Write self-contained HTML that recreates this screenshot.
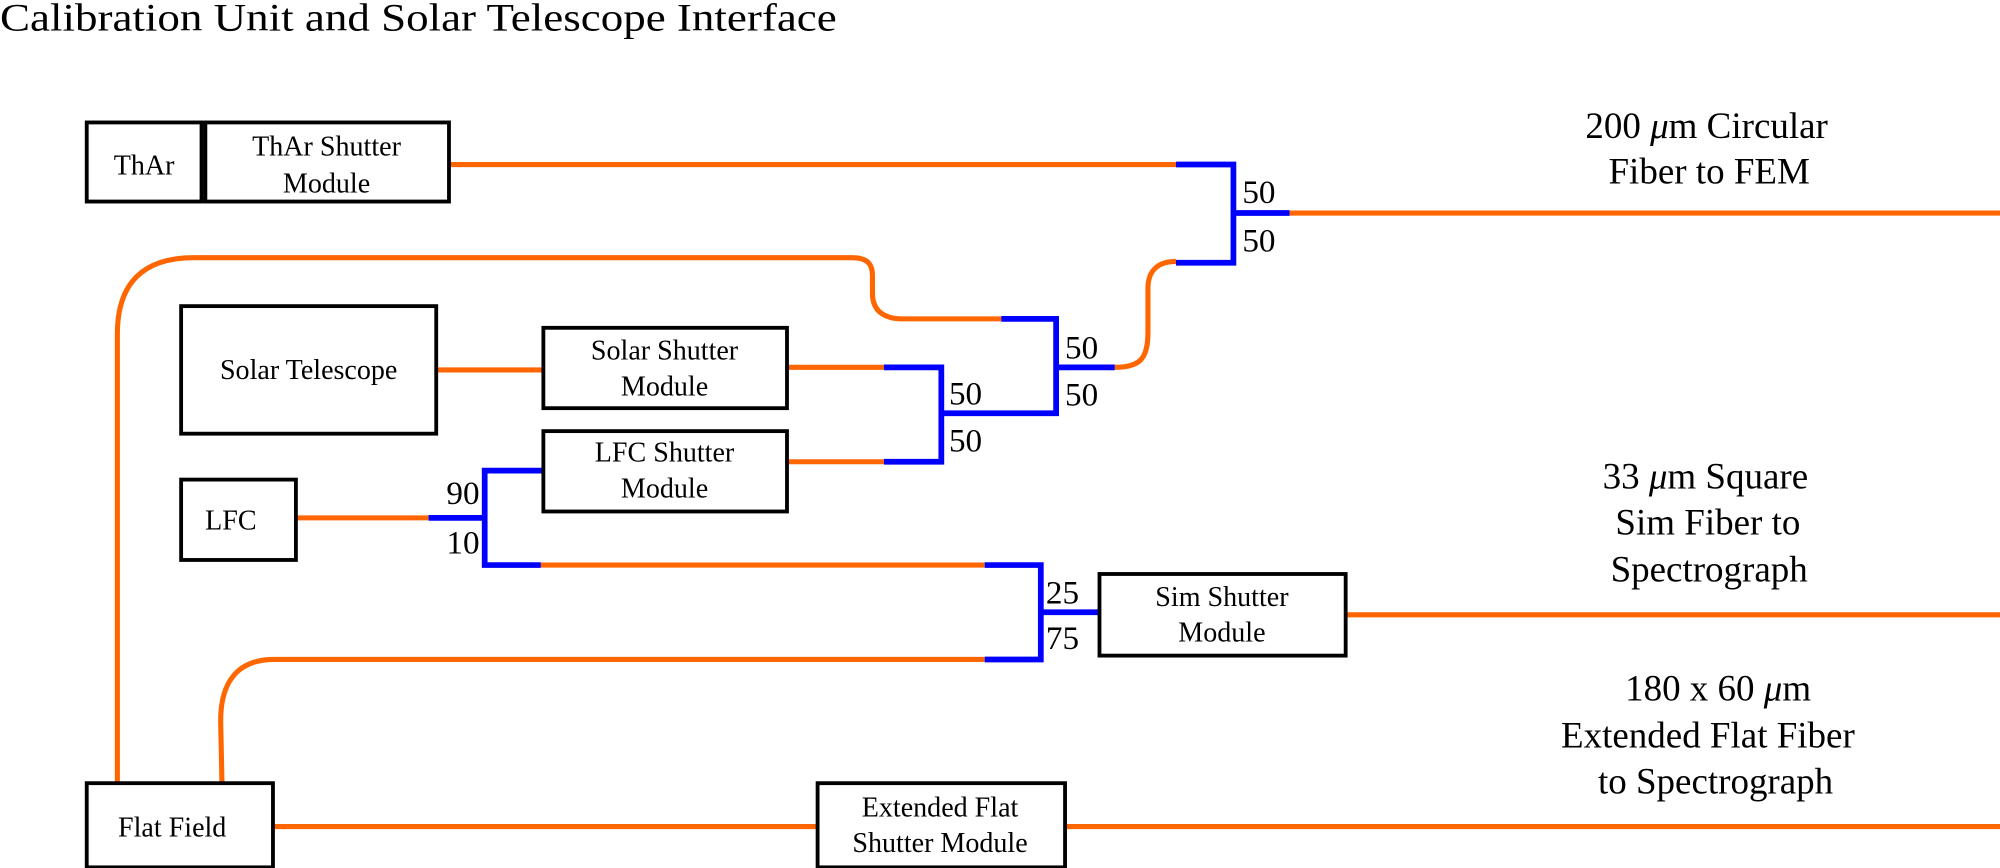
<!DOCTYPE html>
<html><head><meta charset="utf-8"><style>
html,body{margin:0;padding:0;background:#fff;}
svg{display:block}
text{font-family:"Liberation Serif",serif;fill:#000}
</style></head><body>
<svg width="2000" height="868" viewBox="0 0 1568 680.5" preserveAspectRatio="none" xmlns="http://www.w3.org/2000/svg">
<text x="0" y="24" font-size="31" textLength="656" lengthAdjust="spacingAndGlyphs">Calibration Unit and Solar Telescope Interface</text>

<g fill="none" stroke="#ff6600" stroke-width="4">
<path d="M352,129 H924"/>
<path d="M1011,167 H1568"/>
<path d="M874,288 C895,288 900,280 900,260 L900,226 C900,212 908,205 922,205"/>
<path d="M785,250 L708,250 C692,250 684,243 684,230 L684,216 C684,206 679,202 668,202 L152,202 C112,202 92,222 92,262 L92,613"/>
<path d="M342,290 H426"/>
<path d="M617,288 H693"/>
<path d="M617,362 H693"/>
<path d="M232,406 H336"/>
<path d="M424,443 H772"/>
<path d="M772,517 L215,517 C186,517 173,535 173,565 L174,613"/>
<path d="M1054,482 H1568"/>
<path d="M214,648 H641"/>
<path d="M834,648 H1568"/>
</g>

<g fill="none" stroke="#0000ff" stroke-width="4.5">
<path d="M922,129 H967 V206 H922"/>
<path d="M967,167 H1011"/>
<path d="M785,250 H828 V324 H738"/>
<path d="M828,288 H874"/>
<path d="M693,288 H738 V362 H693"/>
<path d="M336,406 H380"/>
<path d="M426,369 H380 V443 H424"/>
<path d="M772,443 H816 V517 H772"/>
<path d="M816,480 H861"/>
</g>

<g fill="#fff" stroke="#000" stroke-width="3">
<rect x="68" y="96" width="90" height="62"/>
<rect x="161" y="96" width="191" height="62"/>
<rect x="142" y="240" width="200" height="100"/>
<rect x="426" y="257" width="191" height="63"/>
<rect x="426" y="338" width="191" height="63"/>
<rect x="142" y="376" width="90" height="63"/>
<rect x="862" y="450" width="193" height="64"/>
<rect x="68" y="614" width="146" height="66"/>
<rect x="641" y="614" width="194" height="66"/>
</g>

<g font-size="22" text-anchor="middle">
<text x="113" y="137">ThAr</text>
<text x="256" y="122">ThAr Shutter</text>
<text x="256" y="151">Module</text>
<text x="242" y="297">Solar Telescope</text>
<text x="521" y="282">Solar Shutter</text>
<text x="521" y="310">Module</text>
<text x="521" y="362">LFC Shutter</text>
<text x="521" y="390">Module</text>
<text x="181" y="415">LFC</text>
<text x="958" y="475">Sim Shutter</text>
<text x="958" y="503">Module</text>
<text x="135" y="656">Flat Field</text>
<text x="737" y="640">Extended Flat</text>
<text x="737" y="668">Shutter Module</text>
</g>

<g font-size="26">
<text x="974" y="159">50</text>
<text x="974" y="197">50</text>
<text x="835" y="281">50</text>
<text x="835" y="318">50</text>
<text x="744" y="317">50</text>
<text x="744" y="354">50</text>
<text x="376" y="395" text-anchor="end">90</text>
<text x="376" y="434" text-anchor="end">10</text>
<text x="820" y="473">25</text>
<text x="820" y="509">75</text>
</g>

<g font-size="29" text-anchor="middle">
<text x="1338" y="108">200 <tspan font-style="italic">μ</tspan>m Circular</text>
<text x="1340" y="144">Fiber to FEM</text>
<text x="1337" y="383">33 <tspan font-style="italic">μ</tspan>m Square</text>
<text x="1339" y="419">Sim Fiber to</text>
<text x="1340" y="456">Spectrograph</text>
<text x="1347" y="549">180 x 60 <tspan font-style="italic">μ</tspan>m</text>
<text x="1339" y="586">Extended Flat Fiber</text>
<text x="1345" y="622">to Spectrograph</text>
</g>
</svg>
</body></html>
